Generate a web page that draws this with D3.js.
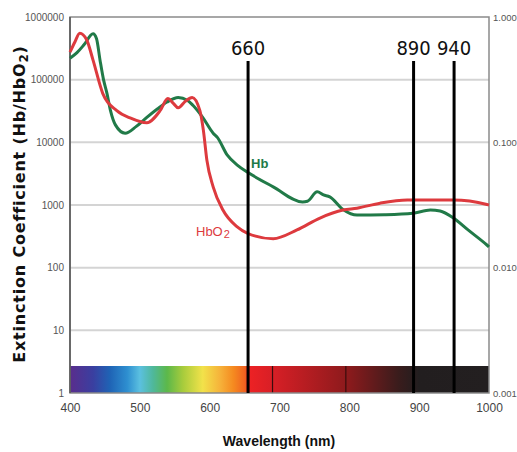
<!DOCTYPE html>
<html><head><meta charset="utf-8">
<script src="https://cdn.jsdelivr.net/npm/d3@7"></script>
<style>body{margin:0;background:#fff}svg{display:block}</style>
</head><body>
<svg id="c" width="517" height="452"></svg>
<script>
// ---- data ----
const hbWavelength = [400,410,420,433,438,443,448,453,458,465,479,495,510,525,539,555,568,576,590,605,611,625,640,655,691,733,740,754,763,772,791,811,850,891,916,930,949,970,997,1000];
const hbValues     = [220000,270000,360000,540000,450000,205000,100000,60000,32000,19000,14000,18000,25000,34000,44000,52000,47000,39000,25000,14000,12000,6300,4300,3300,1950,1120,1150,1620,1450,1350,850,690,700,740,830,800,620,400,230,215];
const hbo2Wavelength = [400,407,414,424,433,447,467,486,510,529,540,548,555,565,575,586,591,596,605,619,639,655,691,725,758,791,811,844,883,949,997,1000];
const hbo2Values     = [275000,400000,550000,430000,205000,60000,32000,24500,20500,32000,50000,42000,35500,45000,52000,32000,15500,5200,1950,830,450,350,290,400,620,830,890,1070,1200,1200,1020,1000];
const xTicks = [400,500,600,700,800,900,1000];
const leftTicks = [1,10,100,1000,10000,100000,1000000];
const rightTicks = [0.001,0.01,0.1,1];
const markerLabels = ["660","890","940"];
const markerWavelengths = [655,892,950];
const spectrumWavelengths = [400,433,457,482,500,519,539,562,590,615,634,651,655,690,800,870,900,1000];
const spectrumColors = ["#5a2d8c","#3a3fa0","#1f63b5","#2e8fd0","#5bc0e0","#4fb89a","#5cb84a","#a8cc3c","#f2e24a","#f6b23a","#f58a20","#f06020","#ee2224","#d81f26","#8a1a1c","#3a1c1c","#221e1f","#231f20"];
const spectrumLines = [690,795];

// ---- chart ----
const svg = d3.select("#c");
const x = d3.scaleLinear([400,1000],[70,489]);
const y = d3.scaleLog([1,1e6],[393,17]);
const yR = d3.scaleLog([0.001,1],[393,17]);

// gridlines
svg.append("g").selectAll("line").data(leftTicks.filter(d=>d>1 && d<1e6)).join("line")
  .attr("x1",x(400)).attr("x2",x(1000)).attr("y1",d=>y(d)).attr("y2",d=>y(d))
  .attr("stroke","#d4d4d4").attr("stroke-width",2);

// spectrum bar
const defs = svg.append("defs");
const grad = defs.append("linearGradient").attr("id","spec").attr("x1","0%").attr("x2","100%");
grad.selectAll("stop").data(spectrumWavelengths).join("stop")
  .attr("offset",d=>((d-400)/600*100)+"%").attr("stop-color",(d,i)=>spectrumColors[i]);
svg.append("rect").attr("x",x(400)).attr("width",x(1000)-x(400))
  .attr("y",366).attr("height",y(1)-366).attr("fill","url(#spec)");
svg.append("g").selectAll("line").data(spectrumLines).join("line")
  .attr("x1",d=>x(d)).attr("x2",d=>x(d)).attr("y1",366).attr("y2",y(1))
  .attr("stroke","#3a0d0d").attr("stroke-width",1.2);

// frame
svg.append("rect").attr("x",x(400)).attr("y",y(1e6)).attr("width",x(1000)-x(400)).attr("height",y(1)-y(1e6))
  .attr("fill","none").attr("stroke","#8a8a8a").attr("stroke-width",1.5);
svg.append("line").attr("x1",x(400)).attr("x2",x(400)).attr("y1",y(1e6)).attr("y2",y(1))
  .attr("stroke","#555").attr("stroke-width",1.5);

// curves
const line = d3.line().x(d=>x(d[0])).y(d=>y(d[1])).curve(d3.curveMonotoneX);
svg.append("path").datum(hbWavelength.map((w,i)=>[w,hbValues[i]]))
  .attr("d",line).attr("fill","none").attr("stroke","#217a48").attr("stroke-width",3).attr("stroke-linejoin","round");
svg.append("path").datum(hbo2Wavelength.map((w,i)=>[w,hbo2Values[i]]))
  .attr("d",line).attr("fill","none").attr("stroke","#dd3a3e").attr("stroke-width",3).attr("stroke-linejoin","round");

// marker lines
const mk = svg.append("g");
mk.selectAll("line").data(markerWavelengths).join("line")
  .attr("x1",d=>x(d)).attr("x2",d=>x(d)).attr("y1",61).attr("y2",y(1))
  .attr("stroke","#000").attr("stroke-width",3);
mk.selectAll("text").data(markerWavelengths).join("text")
  .attr("x",d=>x(d)).attr("y",55).attr("text-anchor","middle")
  .attr("font-family","'DejaVu Sans Condensed', 'DejaVu Sans', sans-serif").attr("font-size",20)
  .attr("fill","#111").text((d,i)=>markerLabels[i]);

// axes
const fontNarrow = "'Liberation Sans Narrow', 'Arial Narrow', 'Liberation Sans', sans-serif";
const la = svg.append("g").attr("transform",`translate(${x(400)},0)`)
  .call(d3.axisLeft(y).tickValues(leftTicks).tickFormat(d3.format("d")).tickSize(0).tickPadding(6));
la.select(".domain").remove();
la.selectAll("text").attr("font-family",fontNarrow).attr("font-size",10).attr("fill","#555");

const ra = svg.append("g").attr("transform",`translate(${x(1000)},0)`)
  .call(d3.axisRight(yR).tickValues(rightTicks).tickFormat(d3.format(".3f")).tickSize(0).tickPadding(4));
ra.select(".domain").remove();
ra.selectAll("text").attr("font-family",fontNarrow).attr("font-size",9.5).attr("fill","#555");

const ba = svg.append("g").attr("transform",`translate(0,${y(1)})`)
  .call(d3.axisBottom(x).tickValues(xTicks).tickFormat(d3.format("d")).tickSize(0).tickPadding(10));
ba.select(".domain").remove();
ba.selectAll("text").attr("font-family",fontNarrow).attr("font-size",12).attr("fill","#444");

// series labels
svg.append("text").attr("x",251).attr("y",168).attr("font-family","Arial, 'Liberation Sans', sans-serif")
  .attr("font-weight","bold").attr("font-size",13).attr("fill","#217a48").text("Hb");
const t2 = svg.append("text").attr("x",196).attr("y",236).attr("font-family","Arial, 'Liberation Sans', sans-serif")
  .attr("font-size",13).attr("fill","#dd3a3e");
t2.append("tspan").text("HbO");
t2.append("tspan").attr("dy",2).attr("dx",1).attr("font-size",11).text("2");

// axis titles
svg.append("text").attr("x",279).attr("y",446).attr("text-anchor","middle")
  .attr("font-family","Arial, 'Liberation Sans', sans-serif").attr("font-weight","bold").attr("font-size",14)
  .attr("fill","#111").text("Wavelength (nm)");
const yt = svg.append("text").attr("transform","translate(25,204) rotate(-90)").attr("text-anchor","middle")
  .attr("font-family","'DejaVu Sans', sans-serif").attr("font-weight","bold").attr("font-size",16)
  .attr("letter-spacing",0.8).attr("fill","#111");
yt.append("tspan").text("Extinction Coefficient (Hb/HbO");
yt.append("tspan").attr("dy",3).attr("font-size",12).text("2");
yt.append("tspan").attr("dy",-3).text(")");
</script>
</body></html>
